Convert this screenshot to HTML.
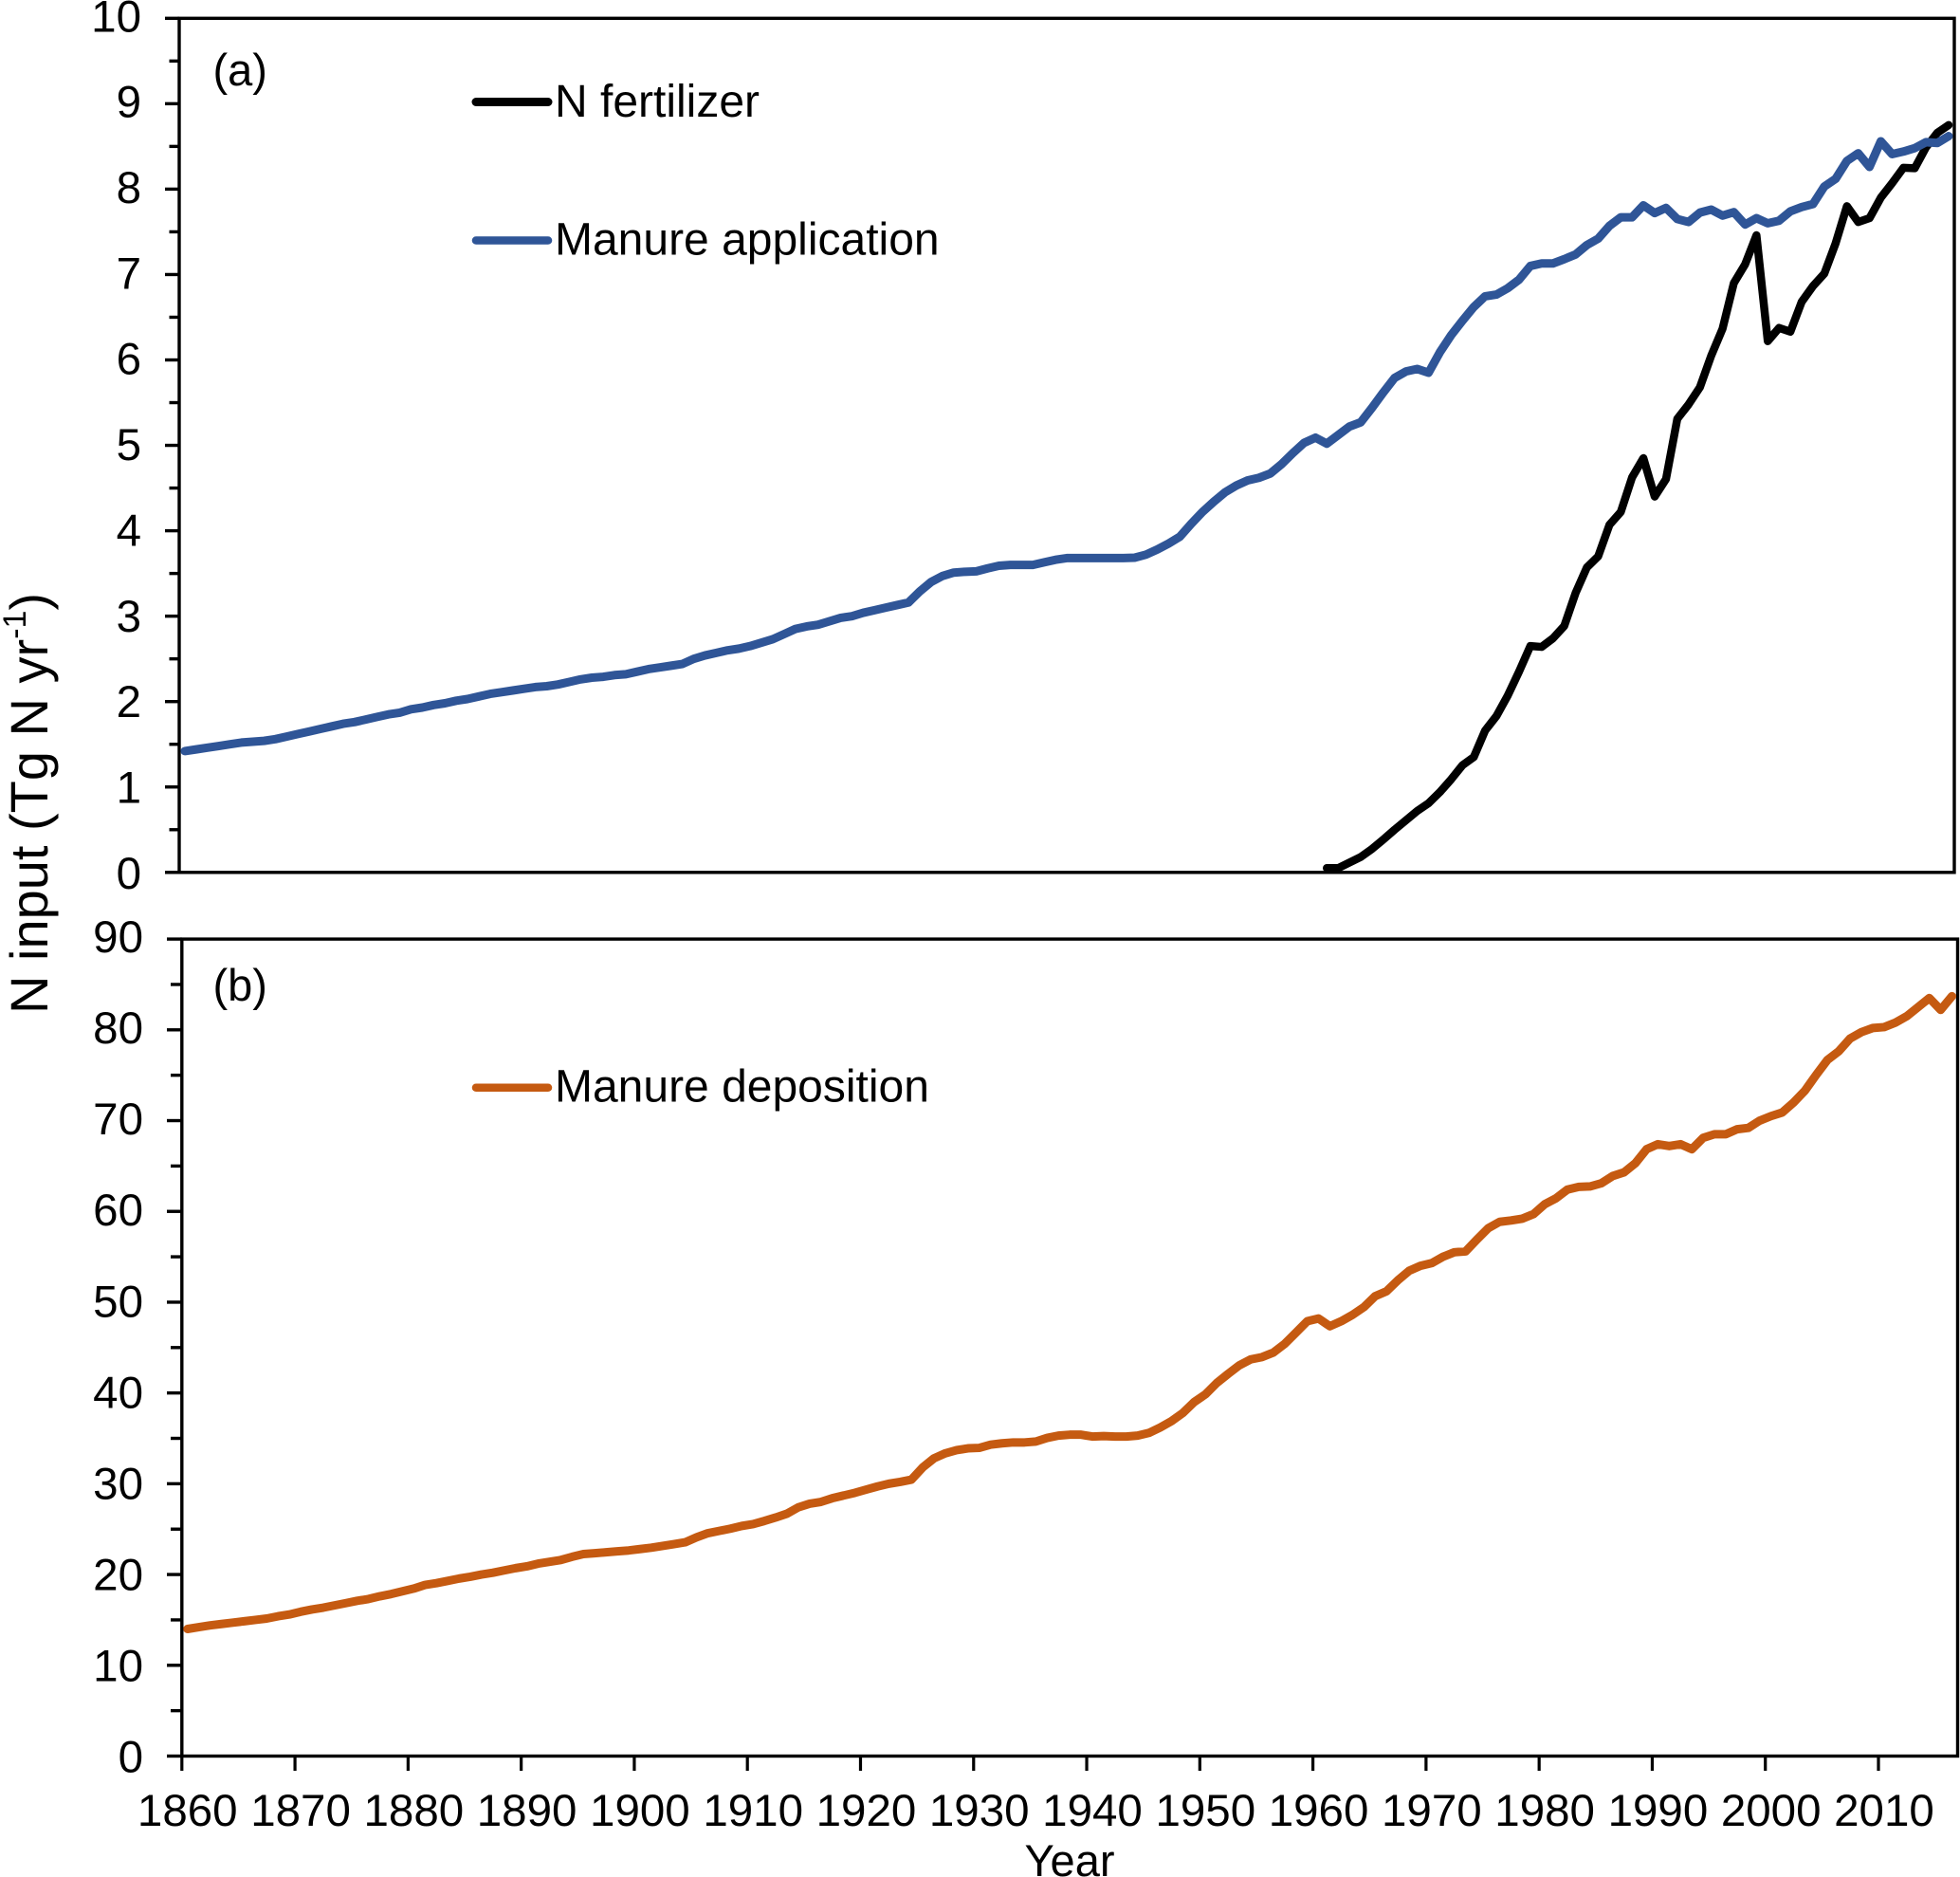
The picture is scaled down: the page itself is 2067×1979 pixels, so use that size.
<!DOCTYPE html>
<html lang="en">
<head>
<meta charset="utf-8">
<title>N input 1860-2016</title>
<style>
html,body{margin:0;padding:0;background:#fff;}
svg{display:block;}
text{font-family:"Liberation Sans",Arial,sans-serif;fill:#000;}
</style>
</head>
<body>
<svg id="chart" xmlns="http://www.w3.org/2000/svg" width="2067" height="1979" viewBox="0 0 2067 1979">
  <rect x="0" y="0" width="2067" height="1979" fill="#ffffff"/>
  <g id="panelA"></g>
  <g id="panelB"></g>

  <text x="224.5" y="90" font-size="47">(a)</text>
  <text x="224.5" y="1055" font-size="47">(b)</text>

  <line x1="502" x2="578" y1="107.5" y2="107.5" stroke="#000000" stroke-width="9" stroke-linecap="round"/>
  <text x="585" y="123" font-size="48">N fertilizer</text>
  <line x1="502" x2="578" y1="253.5" y2="253.5" stroke="#2F5597" stroke-width="8.5" stroke-linecap="round"/>
  <text x="585" y="268.5" font-size="48">Manure application</text>
  <line x1="502" x2="578" y1="1146.7" y2="1146.7" stroke="#C55A11" stroke-width="8.5" stroke-linecap="round"/>
  <text x="585" y="1161.7" font-size="48">Manure deposition</text>

  <text transform="translate(50,1069) rotate(-90)" font-size="56">N input (Tg N yr<tspan dy="-23" font-size="34">-1</tspan><tspan dy="23">)</tspan></text>
  <text x="1128" y="1978" font-size="47" text-anchor="middle">Year</text>
</svg>
<script>
var startYear = 1860;
var endYear = 2016;
var fertilizerStartYear = 1961;
var xTickLabels = [1860,1870,1880,1890,1900,1910,1920,1930,1940,1950,1960,1970,1980,1990,2000,2010];
var yTicksA = [0,1,2,3,4,5,6,7,8,9,10];
var yTicksB = [0,10,20,30,40,50,60,70,80,90];

var nFertilizer = [
  0.05,0.05,0.115,0.18,0.275,0.385,0.50,0.61,0.72,
  0.81,0.94,1.09,1.255,1.35,1.66,1.83,2.07,2.35,2.65,
  2.64,2.74,2.885,3.27,3.57,3.70,4.07,4.22,4.625,4.85,
  4.40,4.605,5.31,5.48,5.68,6.05,6.365,6.90,7.12,7.46,
  6.22,6.375,6.33,6.68,6.865,7.01,7.365,7.80,7.615,7.66,
  7.90,8.07,8.25,8.245,8.49,8.66,8.75
];

var manureApplication = [
  1.42,1.44,1.46,1.48,1.50,1.52,1.53,1.54,1.56,1.59,
  1.62,1.65,1.68,1.71,1.74,1.76,1.79,1.82,1.85,1.87,
  1.91,1.93,1.96,1.98,2.01,2.03,2.06,2.09,2.11,2.13,
  2.15,2.17,2.18,2.20,2.23,2.26,2.28,2.29,2.31,2.32,
  2.35,2.38,2.40,2.42,2.44,2.50,2.54,2.57,2.60,2.62,
  2.65,2.69,2.73,2.79,2.85,2.88,2.90,2.94,2.98,3.00,
  3.04,3.07,3.10,3.13,3.16,3.29,3.40,3.47,3.51,3.52,
  3.525,3.56,3.59,3.60,3.60,3.60,3.63,3.66,3.68,3.68,
  3.68,3.68,3.68,3.68,3.685,3.72,3.78,3.85,3.93,4.08,
  4.22,4.34,4.45,4.53,4.59,4.62,4.67,4.78,4.91,5.03,
  5.09,5.02,5.12,5.22,5.27,5.44,5.62,5.79,5.865,5.895,
  5.85,6.09,6.29,6.46,6.62,6.745,6.765,6.84,6.94,7.10,
  7.13,7.13,7.18,7.235,7.345,7.42,7.57,7.67,7.67,7.81,
  7.72,7.78,7.65,7.615,7.725,7.76,7.69,7.73,7.585,7.66,
  7.60,7.63,7.74,7.79,7.825,8.03,8.12,8.33,8.42,8.26,
  8.56,8.41,8.44,8.48,8.55,8.54,8.62
];

var manureDeposition = [
  14.0,14.2,14.4,14.55,14.7,14.85,15.0,15.15,15.4,15.6,
  15.9,16.15,16.35,16.6,16.85,17.1,17.3,17.6,17.85,18.15,
  18.45,18.85,19.05,19.3,19.55,19.75,20.0,20.2,20.45,20.7,
  20.9,21.2,21.4,21.6,21.95,22.25,22.35,22.45,22.55,22.65,
  22.8,22.95,23.15,23.35,23.55,24.1,24.55,24.8,25.05,25.35,
  25.55,25.9,26.28,26.7,27.4,27.8,28.0,28.4,28.7,29.0,
  29.35,29.7,30.0,30.2,30.45,31.8,32.8,33.35,33.7,33.9,
  33.95,34.3,34.45,34.55,34.55,34.65,35.05,35.3,35.4,35.4,
  35.2,35.25,35.2,35.2,35.3,35.6,36.2,36.9,37.8,39.0,
  39.85,41.1,42.1,43.05,43.7,43.95,44.45,45.4,46.65,47.9,
  48.2,47.35,47.9,48.6,49.45,50.66,51.2,52.4,53.45,54.0,
  54.3,55.0,55.5,55.6,56.9,58.15,58.85,59.0,59.2,59.7,
  60.8,61.45,62.4,62.7,62.75,63.1,63.9,64.3,65.3,66.85,
  67.4,67.2,67.4,66.85,68.1,68.5,68.5,69.05,69.2,70.0,
  70.5,70.9,72.0,73.3,75.05,76.7,77.65,79.05,79.75,80.2,
  80.3,80.8,81.5,82.5,83.5,82.2,83.7
];

var SVGNS = 'http://www.w3.org/2000/svg';
var groupA = document.getElementById('panelA');
var groupB = document.getElementById('panelB');

// Axis functions
var catCount = endYear - startYear + 1;
function makeX(left, right) {
  var w = (right - left) / catCount;
  return {
    tick: function (yr) { return left + (yr - startYear) * w; },
    point: function (yr) { return left + (yr - startYear + 0.5) * w; }
  };
}
function makeY(bottom, top, maxV) {
  return function (v) { return bottom - (v / maxV) * (bottom - top); };
}

var frameA = {left: 189, right: 2061, top: 19.3, bottom: 919.8, maxV: 10, minorStep: 0.5, majorLeft: 174, minorLeft: 178.5, labelX: 149};
var frameB = {left: 191.8, right: 2064.5, top: 990.1, bottom: 1851.5, maxV: 90, minorStep: 5, majorLeft: 176, minorLeft: 180, labelX: 151};

var xA = makeX(frameA.left, frameA.right);
var yA = makeY(frameA.bottom, frameA.top, frameA.maxV);
var xB = makeX(frameB.left, frameB.right);
var yB = makeY(frameB.bottom, frameB.top, frameB.maxV);

function svgLine(parent, x1, y1, x2, y2, width) {
  var l = document.createElementNS(SVGNS, 'line');
  l.setAttribute('x1', x1);
  l.setAttribute('y1', y1);
  l.setAttribute('x2', x2);
  l.setAttribute('y2', y2);
  l.setAttribute('stroke', '#000000');
  l.setAttribute('stroke-width', width);
  parent.appendChild(l);
  return l;
}

function svgText(parent, x, y, str, anchor, size) {
  var t = document.createElementNS(SVGNS, 'text');
  t.setAttribute('x', x);
  t.setAttribute('y', y);
  t.setAttribute('text-anchor', anchor);
  t.setAttribute('font-size', size);
  t.textContent = str;
  parent.appendChild(t);
  return t;
}

function drawSeries(parent, years, values, xf, yf, color, width) {
  var pts = [];
  for (var i = 0; i < values.length; i++) {
    pts.push(xf.point(years + i).toFixed(2) + ',' + yf(values[i]).toFixed(2));
  }
  var p = document.createElementNS(SVGNS, 'polyline');
  p.setAttribute('points', pts.join(' '));
  p.setAttribute('fill', 'none');
  p.setAttribute('stroke', color);
  p.setAttribute('stroke-width', width);
  p.setAttribute('stroke-linejoin', 'round');
  p.setAttribute('stroke-linecap', 'round');
  parent.appendChild(p);
  return p;
}

function drawFrame(parent, f, yf, ticks) {
  var frame = document.createElementNS(SVGNS, 'rect');
  frame.setAttribute('x', f.left);
  frame.setAttribute('y', f.top);
  frame.setAttribute('width', f.right - f.left);
  frame.setAttribute('height', f.bottom - f.top);
  frame.setAttribute('fill', 'none');
  frame.setAttribute('stroke', '#000000');
  frame.setAttribute('stroke-width', 3.4);
  
  
  parent.appendChild(frame);

  var minorCount = Math.round(f.maxV / f.minorStep);
  for (var m = 0; m <= minorCount; m++) {
    var mv = m * f.minorStep;
    var isMajor = m % 2 === 0;
    var tick = svgLine(parent, isMajor ? f.majorLeft : f.minorLeft, yf(mv), f.left, yf(mv), 3.4);
    
    
  }
  for (var i = 0; i < ticks.length; i++) {
    var v = ticks[i];
    var label = svgText(parent, f.labelX, yf(v) + 17 - 3 * v / f.maxV, String(v), 'end', 47.5);
    
    
  }
}

// Panel (a)
drawFrame(groupA, frameA, yA, yTicksA);
var lineFert = drawSeries(groupA, fertilizerStartYear, nFertilizer, xA, yA, '#000000', 8.5);


var lineApp = drawSeries(groupA, startYear, manureApplication, xA, yA, '#2F5597', 9);



// Panel (b)
drawFrame(groupB, frameB, yB, yTicksB);
var lineDep = drawSeries(groupB, startYear, manureDeposition, xB, yB, '#C55A11', 9);



for (var k = 0; k < xTickLabels.length; k++) {
  var yr = xTickLabels[k];
  var xt = svgLine(groupB, xB.tick(yr), frameB.bottom, xB.tick(yr), frameB.bottom + 15.5, 3.2);
  
  
  var xl = svgText(groupB, xB.point(yr), 1925, String(yr), 'middle', 47.5);
  
  
}
</script>
</body>
</html>
